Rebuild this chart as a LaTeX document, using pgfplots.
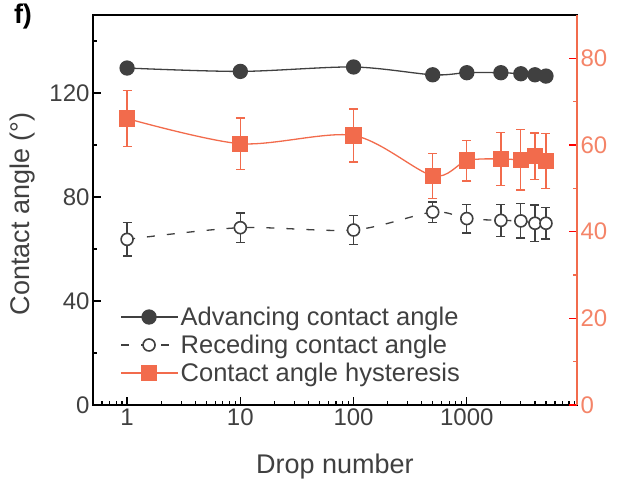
\documentclass[border=0pt]{standalone}
\usepackage{fontspec}
\setmainfont{Liberation Sans}
\usepackage{pgfplots}
\pgfplotsset{compat=1.18}
\definecolor{dk}{HTML}{404040}
\definecolor{orn}{HTML}{F26B4C}
\definecolor{ornlab}{HTML}{F48468}
\newcommand{\tickf}{\fontsize{24}{28}\selectfont}
\newcommand{\legf}{\fontsize{25.5}{29}\selectfont}
\newcommand{\labf}{\fontsize{27}{31}\selectfont}

\tikzset{
  advstyle/.style={dk, line width=1.3pt, smooth, mark=*, mark size=7pt,
                   mark options={solid, fill=dk}},
  recstyle/.style={dk, line width=1.3pt, smooth, dash pattern=on 8pt off 12pt,
                   mark=*, mark size=6pt, mark options={solid, draw=dk, fill=white, line width=1.6pt}},
  hysstyle/.style={orn, line width=1.3pt, smooth, mark=square*, mark size=7.5pt,
                   mark options={solid, fill=orn}},
}

\begin{document}
\begin{tikzpicture}
\begin{axis}[name=ax1, scale only axis, width=484pt, height=390pt, xmode=log,
  xmin=0.5, xmax=9400, tick align=inside,
  major tick length=8pt, minor tick length=4pt,
  tick label style={font=\tickf, text=dk},
  /pgf/number format/assume math mode=true,
  ymin=0, ymax=150, ytick={0,40,80,120}, minor ytick={20,60,100,140},
  xtick={1,10,100,1000}, xticklabels={1,10,100,1000},
  minor xtick={0.5,0.6,0.7,0.8,0.9,2,3,4,5,6,7,8,9,20,30,40,50,60,70,80,90,
    200,300,400,500,600,700,800,900,2000,3000,4000,5000,6000,7000,8000,9000},
  xtick pos=bottom, ytick pos=left,
  axis line style={black, line width=1.4pt},
  tick style={black, line width=1.2pt}]
\addplot[advstyle] coordinates {
  (1,129.6) (10,128.3) (100,130) (500,127) (1000,127.8)
  (2000,127.8) (3000,127.4) (4000,127) (5000,126.5)};
\addplot[recstyle,
  error bars/y dir=both, error bars/y explicit, error bars/error mark=|,
  error bars/error mark options={solid, mark size=4.5pt, line width=1.3pt},
  error bars/error bar style={solid, line width=1.3pt}]
  table[x=x, y=y, y error=e] {
x y e
1 63.7 6.4
10 68.2 5.6
100 67.3 5.5
500 74.2 3.9
1000 71.7 5.5
2000 71.0 6.1
3000 70.8 6.6
4000 69.9 7.0
5000 69.9 6.0
};
\end{axis}
\begin{axis}[scale only axis, width=484pt, height=390pt, xmode=log,
  xmin=0.5, xmax=9400, tick align=inside,
  major tick length=8pt, minor tick length=4pt,
  tick label style={font=\tickf},
  /pgf/number format/assume math mode=true,
  ymin=0, ymax=90, axis y line*=right, axis x line=none,
  ytick={0,20,40,60,80}, minor ytick={10,30,50,70},
  y axis line style={orn, line width=1.4pt, -},
  every major y tick/.style={red, line width=1.2pt},
  every minor y tick/.style={orn, line width=1.2pt},
  yticklabel style={text=ornlab},
  legend style={draw=none, fill=none, at={(axis description cs:0.05,0.262)},
    anchor=north west, font=\legf, text=dk, row sep=4pt},
  legend cell align=left,
  legend image code/.code={\draw[mark repeat=2, mark phase=2, #1]
    plot coordinates {(0pt,0pt) (28pt,0pt) (57pt,0pt)};}]
\addlegendimage{advstyle}
\addlegendentry{Advancing contact angle}
\addlegendimage{recstyle}
\addlegendentry{Receding contact angle}
\addplot[hysstyle,
  error bars/y dir=both, error bars/y explicit, error bars/error mark=|,
  error bars/error mark options={solid, mark size=4.5pt, line width=1.3pt},
  error bars/error bar style={solid, line width=1.3pt}]
  table[x=x, y=y, y error=e] {
x y e
1 66.1 6.5
10 60.3 5.9
100 62.2 6.1
500 52.9 5.2
1000 56.4 4.7
2000 56.8 6.1
3000 56.6 7.0
4000 57.4 5.4
5000 56.3 6.3
};
\addlegendentry{Contact angle hysteresis}
\end{axis}
\node[rotate=90, font=\labf, text=dk] at ([xshift=-70pt, yshift=-4pt]ax1.west) {Contact angle (°)};
\node[font=\labf, text=dk] at ([yshift=-62pt]ax1.south) {Drop number};
\node[font=\labf\bfseries] at ([xshift=-70pt, yshift=-2pt]ax1.north west) {f)};
\pgfresetboundingbox
\useasboundingbox ([shift={(-93pt,-81pt)}]ax1.south west) rectangle ([shift={(44pt,15pt)}]ax1.north east);
\end{tikzpicture}
\end{document}
